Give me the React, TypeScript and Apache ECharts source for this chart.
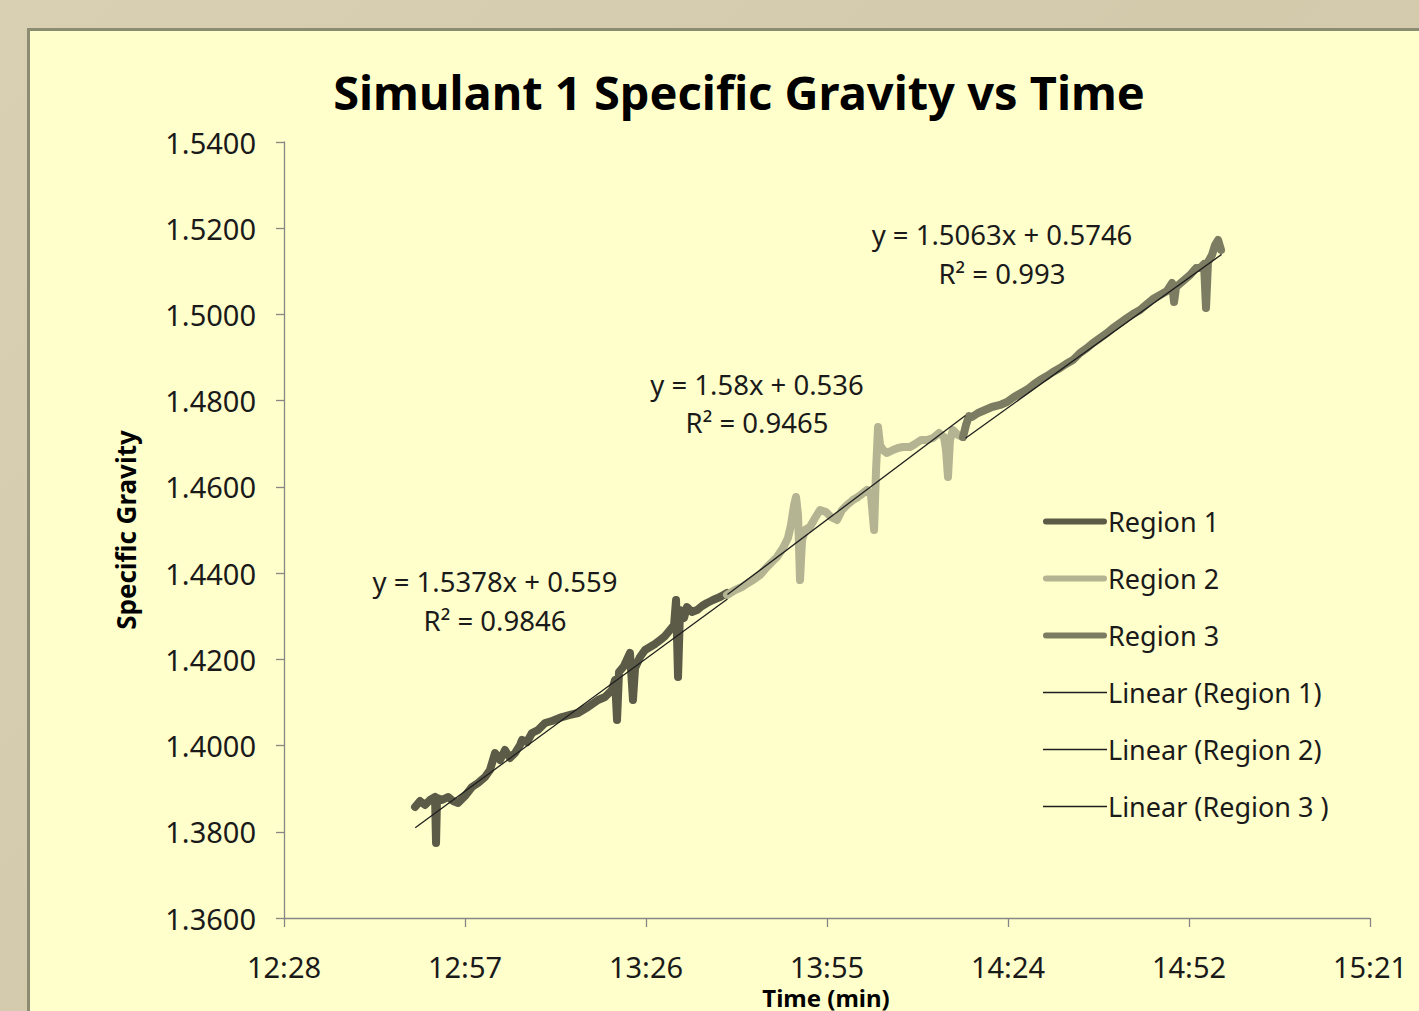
import React, { useEffect, useRef } from "react";
import * as echarts from "echarts";

// ---------- data ----------
const TITLE = "Simulant 1 Specific Gravity vs Time";
const X_NAME = "Time (min)";
const Y_NAME = "Specific Gravity";
const X_MIN = 0.52;
const X_MAX = 0.64;
const X_STEP = 0.02;
const Y_MIN = 1.36;
const Y_MAX = 1.54;
const Y_STEP = 0.02;

const regionNames = ["Region 1", "Region 2", "Region 3"];
const regionColors = ["#5b5b48", "#b4b492", "#7c7c62"];

// [time as fraction of a day, specific gravity]
const region1: number[][] = [
  [0.53448, 1.38575], [0.53503, 1.38714], [0.53558, 1.38621], [0.53613, 1.38737],
  [0.53669, 1.38807], [0.5368, 1.3774], [0.53691, 1.38784], [0.53746, 1.38737],
  [0.53812, 1.38807], [0.53867, 1.38714], [0.53923, 1.38668], [0.54, 1.3883],
  [0.54077, 1.39039], [0.54144, 1.39131], [0.54221, 1.39271], [0.54276, 1.39433],
  [0.54332, 1.39827], [0.54387, 1.39665], [0.54442, 1.39897], [0.54497, 1.39711],
  [0.54553, 1.39827], [0.54608, 1.40013], [0.5463, 1.40129], [0.54685, 1.40082],
  [0.5474, 1.40291], [0.54807, 1.40361], [0.54884, 1.40523], [0.54961, 1.4057],
  [0.55072, 1.40662], [0.5516, 1.40709], [0.55249, 1.40755], [0.55359, 1.40894],
  [0.5547, 1.41057], [0.55547, 1.41126], [0.55624, 1.41289], [0.55658, 1.41521],
  [0.5568, 1.40593], [0.55702, 1.41706], [0.55757, 1.41845], [0.55823, 1.42147],
  [0.55856, 1.41057], [0.55879, 1.41799], [0.55934, 1.42054], [0.55989, 1.42217],
  [0.56044, 1.42286], [0.561, 1.42356], [0.56155, 1.42448], [0.5621, 1.42541],
  [0.56265, 1.4268], [0.5631, 1.42796], [0.56332, 1.43376], [0.56354, 1.4159],
  [0.56376, 1.43144], [0.5642, 1.42959], [0.56453, 1.43214], [0.56508, 1.43098],
  [0.56564, 1.43144], [0.56619, 1.43237], [0.56674, 1.43307], [0.5674, 1.43376],
  [0.56818, 1.43446], [0.56895, 1.43539],
];

const region2: number[][] = [
  [0.56895, 1.43492], [0.56984, 1.43608], [0.57061, 1.43678], [0.57127, 1.43771],
  [0.57182, 1.4384], [0.5726, 1.43956], [0.57337, 1.44142], [0.57392, 1.44258],
  [0.57448, 1.44374], [0.57514, 1.44583], [0.57569, 1.44814], [0.57602, 1.45116],
  [0.57636, 1.4558], [0.57658, 1.45766], [0.5768, 1.45348], [0.57702, 1.4384],
  [0.57724, 1.44768], [0.57757, 1.45], [0.57812, 1.4507], [0.57868, 1.45278],
  [0.57923, 1.45464], [0.57989, 1.45418], [0.58044, 1.45302], [0.58111, 1.45232],
  [0.58166, 1.45464], [0.58221, 1.4558], [0.58287, 1.45696], [0.58343, 1.45766],
  [0.58398, 1.45858], [0.58442, 1.45928], [0.58486, 1.45812], [0.5852, 1.45],
  [0.58542, 1.46392], [0.58564, 1.47389], [0.58586, 1.46972], [0.58619, 1.46856],
  [0.58663, 1.46786], [0.58729, 1.46856], [0.58785, 1.46902], [0.5884, 1.46925],
  [0.58917, 1.46925], [0.58973, 1.46995], [0.59039, 1.47088], [0.59105, 1.47088],
  [0.59171, 1.47134], [0.59238, 1.4725], [0.59293, 1.47157], [0.59315, 1.46856],
  [0.59337, 1.46229], [0.59359, 1.47088], [0.59392, 1.4732], [0.59448, 1.47204],
  [0.59503, 1.47157],
];

const region3: number[][] = [
  [0.59503, 1.47157], [0.59536, 1.47436], [0.59569, 1.47644], [0.59602, 1.47621],
  [0.59669, 1.47714], [0.59746, 1.47784], [0.59823, 1.47853], [0.59912, 1.479],
  [0.59989, 1.47969], [0.60067, 1.48085], [0.60144, 1.48178], [0.60221, 1.48271],
  [0.60288, 1.48387], [0.60354, 1.48479], [0.60431, 1.48572], [0.60497, 1.48665],
  [0.60575, 1.48758], [0.60641, 1.48851], [0.60718, 1.48943], [0.60796, 1.49106],
  [0.60873, 1.49222], [0.60939, 1.49338], [0.61017, 1.49454], [0.61094, 1.4957],
  [0.6116, 1.49686], [0.61238, 1.49802], [0.61315, 1.49918], [0.61381, 1.5001],
  [0.61459, 1.50103], [0.61536, 1.50242], [0.61602, 1.50358], [0.6168, 1.50451],
  [0.61757, 1.50544], [0.61812, 1.50729], [0.61835, 1.50289], [0.61857, 1.50637],
  [0.61934, 1.50776], [0.62011, 1.50915], [0.62078, 1.51077], [0.62122, 1.51077],
  [0.62166, 1.5117], [0.62188, 1.5015], [0.6221, 1.51217], [0.62254, 1.51379],
  [0.62288, 1.51611], [0.62321, 1.51727], [0.62354, 1.51495],
];

const trendNames = ["Linear (Region 1)", "Linear (Region 2)", "Linear (Region 3 )"];
const trendSlopes = [1.5378, 1.58, 1.5063];
const trendIntercepts = [0.559, 0.536, 0.5746];
const trendR2 = ["0.9846", "0.9465", "0.993"];
const trendStarts = [0.5345, 0.569, 0.5953];
const trendEnds = [0.569, 0.5953, 0.6236];

// ---------- layout / style ----------
const FONT = "'Noto Sans', 'Open Sans', sans-serif";
const TEXT = "#1a1a1a";
const AXIS = "#868686";
const TREND = "#1e1e1e";
const labelPos = [
  { x: 495, y1: 581, y2: 620 },
  { x: 757, y1: 384, y2: 422 },
  { x: 1002, y1: 234, y2: 273 },
];
const THICK_ICON = "path://M3,0 L61,0 A3,3 0 0 1 61,6 L3,6 A3,3 0 0 1 3,0 Z";
const THIN_ICON = "path://M0,0 L60,0 L60,1.4 L0,1.4 Z";

function fmtTime(v: number): string {
  const m = Math.floor(v * 1440 + 1e-6);
  const h = Math.floor(m / 60);
  const mm = m % 60;
  return `${h}:${mm < 10 ? "0" + mm : mm}`;
}

export default function App() {
  const ref = useRef<HTMLDivElement>(null);

  useEffect(() => {
    document.body.style.margin = "0";
    if (!ref.current) return;
    const chart = echarts.init(ref.current, undefined, { renderer: "svg" });

    const regionData = [region1, region2, region3];
    const regionSeries = regionData.map((d, i) => ({
      name: regionNames[i],
      type: "line",
      data: d,
      symbol: "none",
      showSymbol: false,
      lineStyle: { width: 8, color: regionColors[i], cap: "round", join: "round" },
      itemStyle: { color: regionColors[i] },
      z: 2,
    }));
    const trendSeries = trendNames.map((n, i) => ({
      name: n,
      type: "line",
      data: [
        [trendStarts[i], trendSlopes[i] * trendStarts[i] + trendIntercepts[i]],
        [trendEnds[i], trendSlopes[i] * trendEnds[i] + trendIntercepts[i]],
      ],
      symbol: "none",
      showSymbol: false,
      lineStyle: { width: 1.3, color: TREND },
      itemStyle: { color: TREND },
      z: 4,
    }));

    const eqTexts: any[] = [];
    trendSlopes.forEach((m, i) => {
      eqTexts.push({
        type: "text",
        x: labelPos[i].x,
        y: labelPos[i].y1,
        style: {
          text: `y = ${m}x + ${trendIntercepts[i]}`,
          fill: TEXT,
          font: `27.5px ${FONT}`,
          textAlign: "center",
          textVerticalAlign: "middle",
        },
      });
      eqTexts.push({
        type: "text",
        x: labelPos[i].x,
        y: labelPos[i].y2,
        style: {
          text: `R² = ${trendR2[i]}`,
          fill: TEXT,
          font: `27.5px ${FONT}`,
          textAlign: "center",
          textVerticalAlign: "middle",
        },
      });
    });

    const legendData = [
      ...regionNames.map((n, i) => ({ name: n, icon: THICK_ICON, itemStyle: { color: regionColors[i] } })),
      ...trendNames.map((n) => ({ name: n, icon: THIN_ICON, itemStyle: { color: TREND } })),
    ];

    chart.setOption({
      animation: false,
      backgroundColor: "transparent",
      grid: { left: 284, top: 142, right: 49, bottom: 93, containLabel: false },
      xAxis: {
        type: "value",
        min: X_MIN,
        max: X_MAX,
        interval: X_STEP,
        axisLine: { show: true, lineStyle: { color: AXIS, width: 1.3 } },
        axisTick: { show: true, length: 9, lineStyle: { color: AXIS, width: 1.3 } },
        splitLine: { show: false },
        axisLabel: {
          formatter: (v: number) => fmtTime(v),
          margin: 34,
          color: TEXT,
          fontSize: 29,
          lineHeight: 28,
          fontFamily: FONT,
        },
      },
      yAxis: {
        type: "value",
        min: Y_MIN,
        max: Y_MAX,
        interval: Y_STEP,
        axisLine: { show: true, lineStyle: { color: AXIS, width: 1.3 } },
        axisTick: { show: true, length: 8, lineStyle: { color: AXIS, width: 1.3 } },
        splitLine: { show: false },
        axisLabel: {
          formatter: (v: number) => v.toFixed(4),
          margin: 28,
          color: TEXT,
          fontSize: 29,
          fontFamily: FONT,
        },
      },
      legend: {
        orient: "vertical",
        left: 1038,
        top: 503,
        itemWidth: 64,
        itemHeight: 14,
        itemGap: 30,
        data: legendData,
        textStyle: { color: TEXT, fontSize: 27, fontFamily: FONT, padding: [0, 0, 0, -4] },
      },
      graphic: [
        {
          type: "text",
          x: 739,
          y: 92,
          style: {
            text: TITLE,
            fill: "#000",
            font: `bold 47px ${FONT}`,
            textAlign: "center",
            textVerticalAlign: "middle",
          },
        },
        {
          type: "text",
          x: 126,
          y: 530,
          rotation: Math.PI / 2,
          style: {
            text: Y_NAME,
            fill: "#000",
            font: `bold 26px ${FONT}`,
            textAlign: "center",
            textVerticalAlign: "middle",
          },
        },
        {
          type: "text",
          x: 826,
          y: 997,
          style: {
            text: X_NAME,
            fill: "#000",
            font: `bold 24px ${FONT}`,
            lineHeight: 22,
            textAlign: "center",
            textVerticalAlign: "middle",
          },
        },
        ...eqTexts,
      ],
      series: [...regionSeries, ...trendSeries],
    });

    return () => chart.dispose();
  }, []);

  return (
    <div
      style={{
        position: "relative",
        width: 1419,
        height: 1011,
        overflow: "hidden",
        background: "linear-gradient(135deg, #d9cfb3 0%, #d3c9ab 50%, #d8ceb2 100%)",
      }}
    >
      <div
        style={{
          position: "absolute",
          left: 27,
          top: 28,
          width: 1500,
          height: 1100,
          background: "#ffffcb",
          border: "3px solid #8c8c72",
          boxSizing: "border-box",
        }}
      />
      <div ref={ref} style={{ position: "absolute", left: 0, top: 0, width: 1419, height: 1011 }} />
    </div>
  );
}
